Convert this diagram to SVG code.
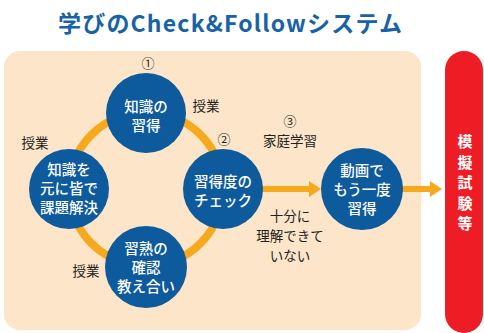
<svg xmlns="http://www.w3.org/2000/svg" width="484" height="333" viewBox="0 0 484 333">
<style>
text{font-family:"Noto Sans CJK JP","Noto Sans",sans-serif;}
.title{font-size:23px;font-weight:bold;fill:#1862a6;}
.node{fill:#0d5a9c;}
.nt{font-size:14.5px;fill:#ffffff;text-anchor:middle;font-weight:500;}
.lbl{font-size:13.5px;fill:#231f20;text-anchor:middle;}
.num{font-size:13px;fill:#231f20;text-anchor:middle;}
.ring{fill:none;stroke:#f6a91c;stroke-width:8;}
.arr{fill:#f6a91c;}
.exam{font-size:15px;font-weight:bold;fill:#ffffff;text-anchor:middle;}
</style>
<rect width="484" height="333" fill="#ffffff"/>
<text class="title" x="58" y="32" textLength="344" lengthAdjust="spacing">学びのCheck&amp;Followシステム</text>
<rect x="4" y="51" width="417" height="279" rx="16" fill="#fde5ca"/>
<g id="exam">
<rect x="445" y="51" width="38" height="282" rx="19" fill="#ee1c25"/>
<text class="exam" x="465" y="147">模</text>
<text class="exam" x="465" y="167.5">擬</text>
<text class="exam" x="465" y="188">試</text>
<text class="exam" x="465" y="208.5">験</text>
<text class="exam" x="465" y="229">等</text>
</g>
<g id="connectors">
<circle class="ring" cx="146" cy="189" r="77"/>
<path class="arr" d="M262,186 H309 V181 L321,189 L309,197 V192 H262 Z"/>
<path class="arr" d="M402,186 H430 V181 L442,189 L430,197 V192 H402 Z"/>
</g>
<g id="n1">
<circle class="node" cx="146" cy="113" r="40"/>
<text class="nt" x="146" y="112">知識の</text>
<text class="nt" x="146" y="131">習得</text>
</g>
<g id="n2">
<circle class="node" cx="69" cy="189" r="40"/>
<text class="nt" x="69" y="175">知識を</text>
<text class="nt" x="69" y="194">元に皆で</text>
<text class="nt" x="69" y="213">課題解決</text>
</g>
<g id="n3">
<circle class="node" cx="223" cy="189" r="40"/>
<text class="nt" x="223" y="187">習得度の</text>
<text class="nt" x="223" y="206">チェック</text>
</g>
<g id="n4">
<circle class="node" cx="146" cy="267" r="41"/>
<text class="nt" x="146" y="254">習熟の</text>
<text class="nt" x="146" y="273">確認</text>
<text class="nt" x="146" y="292">教え合い</text>
</g>
<g id="n5">
<circle class="node" cx="362" cy="189" r="41"/>
<text class="nt" x="362" y="176">動画で</text>
<text class="nt" x="362" y="195">もう一度</text>
<text class="nt" x="362" y="214">習得</text>
</g>
<g id="labels">
<text class="num" x="148" y="68">①</text>
<text class="lbl" x="206" y="111">授業</text>
<text class="num" x="224" y="144">②</text>
<text class="lbl" x="35" y="148">授業</text>
<text class="lbl" x="86" y="276">授業</text>
<text class="num" x="290" y="126">③</text>
<text class="lbl" x="290" y="146">家庭学習</text>
<text class="lbl" x="290" y="221">十分に</text>
<text class="lbl" x="290" y="241">理解できて</text>
<text class="lbl" x="290" y="261">いない</text>
</g>
</svg>
